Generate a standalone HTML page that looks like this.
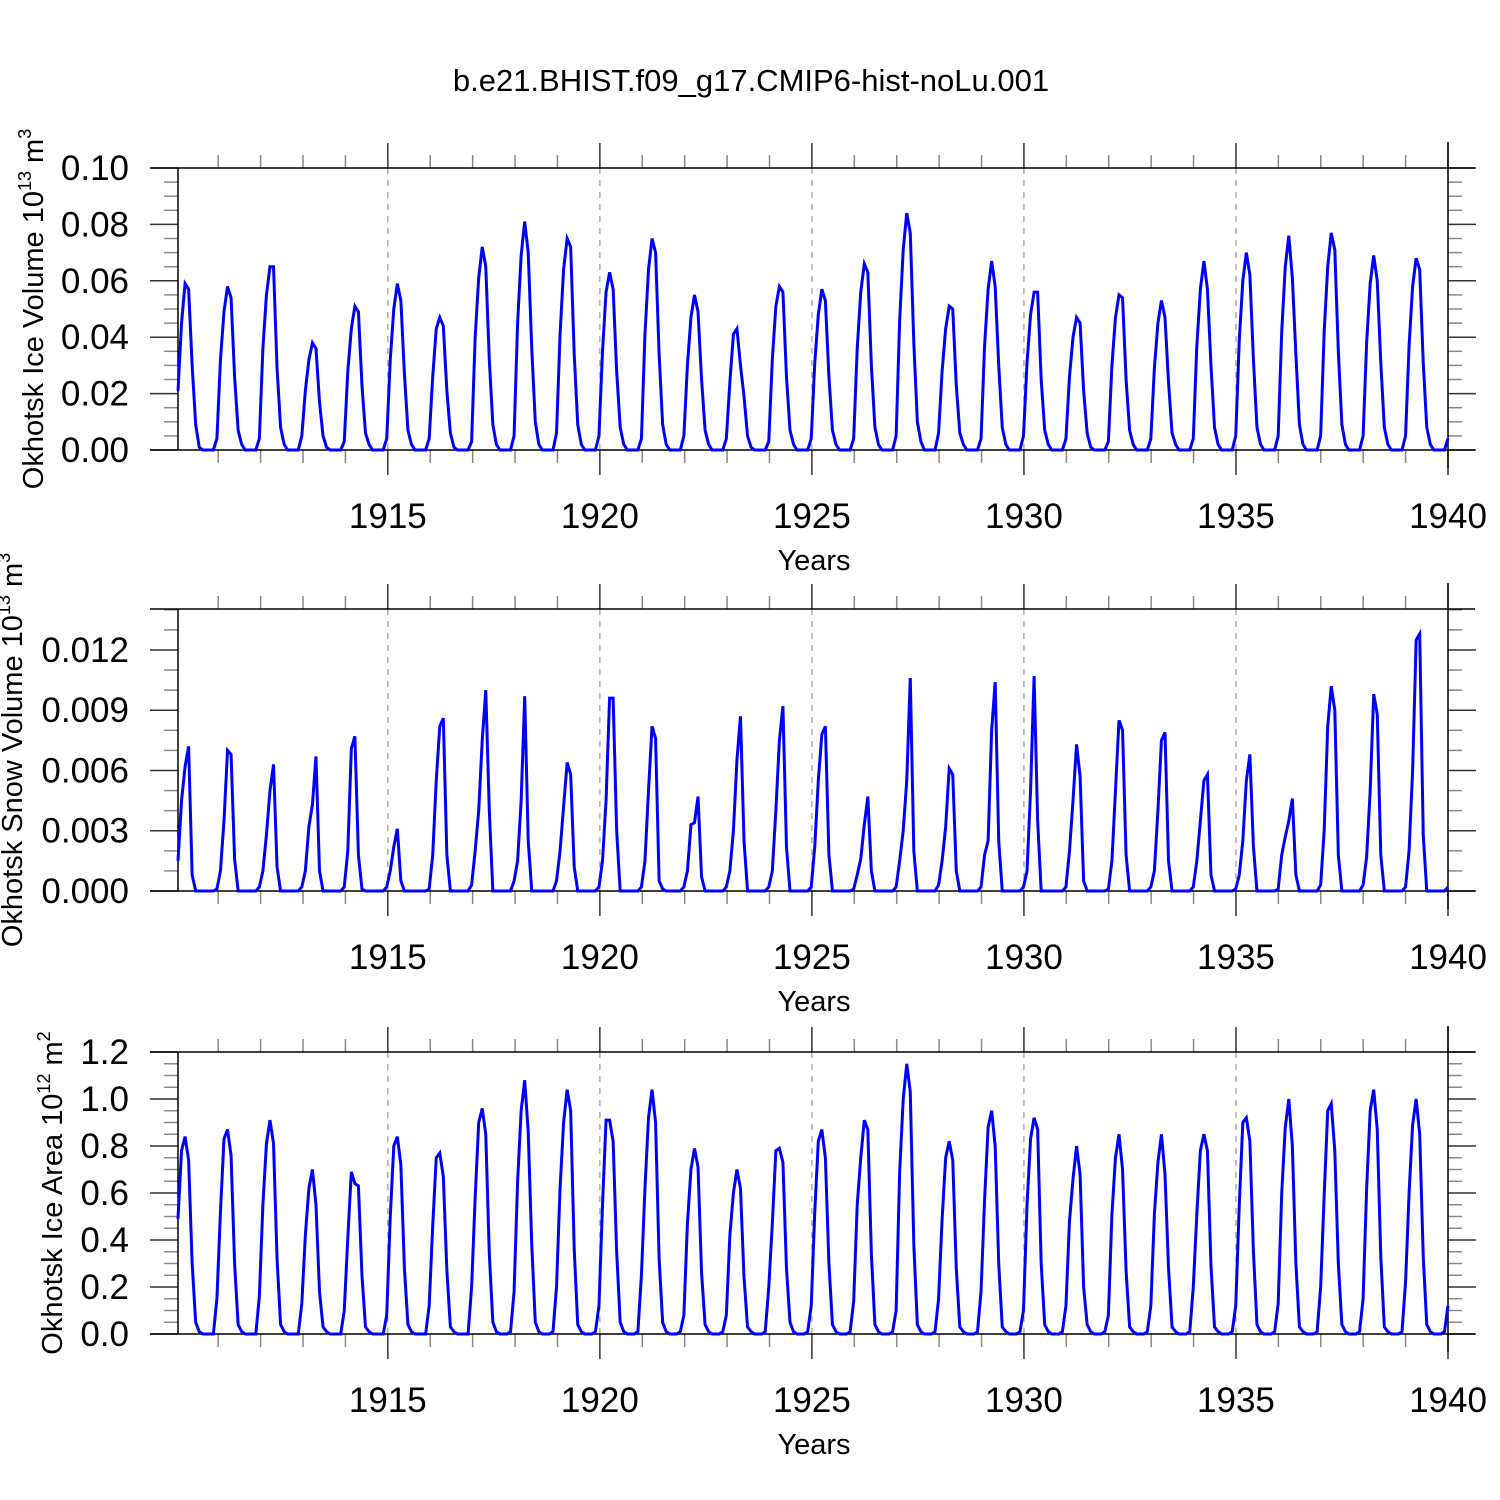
<!DOCTYPE html>
<html><head><meta charset="utf-8">
<style>
html,body{margin:0;padding:0;background:#fff;}
svg{display:block;font-family:"Liberation Sans",sans-serif;}
</style></head>
<body>
<svg id="chart" width="1500" height="1500" viewBox="0 0 1500 1500" xmlns="http://www.w3.org/2000/svg">
<rect width="1500" height="1500" fill="#fff"/>
<text x="751" y="91" font-size="31" text-anchor="middle">b.e21.BHIST.f09_g17.CMIP6-hist-noLu.001</text>
</svg>
<script>
// Monthly data 1910-1939 (Jan..Dec per row)
const years = [1910,1911,1912,1913,1914,1915,1916,1917,1918,1919,1920,1921,1922,1923,1924,1925,1926,1927,1928,1929,1930,1931,1932,1933,1934,1935,1936,1937,1938,1939];
const xTickLabels = [1915,1920,1925,1930,1935,1940];
// Ice volume, units of 0.001 x 10^13 m^3
const iceVolume = [
21,45,59,57,30,9,1,0,0,0,0,4,
32,49,58,54,26,7,2,0,0,0,0,4,
36,55,65,65,29,8,2,0,0,0,0,5,
21,32,38,36,17,5,1,0,0,0,0,3,
28,43,51,49,23,6,2,0,0,0,0,4,
32,50,59,53,27,7,2,0,0,0,0,4,
26,43,47,44,21,6,1,0,0,0,0,3,
40,61,72,65,32,9,2,0,0,0,0,5,
45,69,81,70,36,10,2,0,0,0,0,6,
41,64,75,72,34,9,2,0,0,0,0,5,
35,56,63,57,28,8,2,0,0,0,0,4,
41,64,75,70,34,9,2,0,0,0,0,5,
30,47,55,49,25,7,2,0,0,0,0,4,
24,41,43,30,19,5,1,0,0,0,0,3,
32,51,58,56,26,7,2,0,0,0,0,4,
31,48,57,53,26,7,2,0,0,0,0,4,
36,56,66,63,30,8,2,0,0,0,0,5,
46,71,84,77,38,10,3,0,0,0,0,6,
28,43,51,50,23,6,2,0,0,0,0,4,
37,57,67,58,30,8,2,0,0,0,0,5,
31,48,56,56,25,7,2,0,0,0,0,4,
26,40,47,45,21,6,1,0,0,0,0,3,
30,47,55,54,25,7,2,0,0,0,0,4,
29,45,53,47,24,6,2,0,0,0,0,4,
37,57,67,57,30,8,2,0,0,0,0,5,
39,60,70,62,32,8,2,0,0,0,0,5,
42,65,76,61,34,9,2,0,0,0,0,5,
42,65,77,71,35,9,2,0,0,0,0,5,
38,59,69,60,31,8,2,0,0,0,0,5,
37,58,68,64,31,8,2,0,0,0,0,4];
// Snow volume, units of 0.0001 x 10^13 m^3
const snowVolume = [
15,45,62,72,8,0,0,0,0,0,0,1,
10,35,70,68,16,0,0,0,0,0,0,2,
10,28,50,63,12,0,0,0,0,0,0,2,
10,32,43,67,10,0,0,0,0,0,0,2,
20,71,77,18,1,0,0,0,0,0,0,2,
10,22,31,5,0,0,0,0,0,0,0,1,
18,55,82,86,18,0,0,0,0,0,0,3,
20,40,75,100,40,0,0,0,0,0,0,5,
15,45,97,25,0,0,0,0,0,0,0,5,
20,42,64,58,12,0,0,0,0,0,0,2,
15,45,96,96,30,0,0,0,0,0,0,2,
15,50,82,76,5,1,0,0,0,0,0,2,
10,33,34,47,7,0,0,0,0,0,0,2,
10,30,65,87,25,0,0,0,0,0,0,2,
10,40,75,92,22,0,0,0,0,0,0,2,
22,55,78,82,18,0,0,0,0,0,0,1,
8,16,33,47,10,0,0,0,0,0,0,2,
15,30,55,106,20,0,0,0,0,0,0,3,
15,32,61,58,10,0,0,0,0,0,0,2,
18,25,80,104,25,0,0,0,0,0,0,2,
10,50,107,35,0,0,0,0,0,0,0,2,
20,45,73,57,5,0,0,0,0,0,0,1,
15,50,85,80,18,0,0,0,0,0,0,2,
10,40,75,79,15,0,0,0,0,0,0,2,
15,35,55,58,8,0,0,0,0,0,0,1,
8,25,55,68,22,0,0,0,0,0,0,1,
18,27,35,46,8,0,0,0,0,0,0,3,
30,82,102,90,18,0,0,0,0,0,0,3,
17,50,98,88,18,0,0,0,0,0,0,2,
20,60,125,128,28,0,0,0,0,0,0,2];
// Ice area, units of 0.01 x 10^12 m^2
const iceArea = [
49,78,84,74,30,5,1,0,0,0,0,15,
52,83,87,76,30,4,1,0,0,0,0,16,
55,81,91,81,32,4,1,0,0,0,0,13,
42,62,70,55,18,3,1,0,0,0,0,10,
41,69,64,63,25,3,1,0,0,0,0,8,
50,80,84,72,28,4,1,0,0,0,0,12,
46,75,77,67,27,3,1,0,0,0,0,20,
58,90,96,85,34,5,1,0,0,0,1,18,
65,95,108,86,38,5,1,0,0,0,1,20,
62,90,104,95,36,4,1,0,0,0,1,12,
55,91,91,82,35,5,1,0,0,0,1,25,
62,92,104,90,32,5,1,0,0,0,1,8,
47,70,79,71,26,4,1,0,0,0,1,8,
42,60,70,62,24,3,1,0,0,0,1,20,
47,78,79,73,28,5,1,0,0,0,1,12,
52,82,87,75,30,4,1,0,0,0,1,14,
55,75,91,87,34,4,1,0,0,0,1,10,
69,100,115,103,38,4,1,0,0,0,1,15,
49,75,82,74,28,3,1,0,0,0,1,18,
57,88,95,80,30,3,1,0,0,0,1,10,
55,83,92,87,30,4,1,0,0,0,1,12,
48,66,80,68,20,4,1,0,0,0,1,8,
51,75,85,70,27,3,1,0,0,0,1,12,
51,73,85,68,28,3,1,0,0,0,1,20,
51,78,85,78,29,3,1,0,0,0,1,12,
55,90,92,82,35,4,1,0,0,0,1,13,
60,88,100,80,30,3,1,0,0,0,1,20,
59,95,98,78,30,4,1,0,0,0,1,15,
62,95,104,87,33,3,1,0,0,0,1,22,
60,89,100,85,33,4,1,0,0,0,1,12];
const iceVolTicks = ["0.00","0.02","0.04","0.06","0.08","0.10"];
const snowTicks = ["0.000","0.003","0.006","0.009","0.012"];
const areaTicks = ["0.0","0.2","0.4","0.6","0.8","1.0","1.2"];

const NS = "http://www.w3.org/2000/svg";
const svg = document.getElementById("chart");
const L = 178, R = 1448, OL = 150, OR = 1475;
const X1910 = 175.8;
const nPts = years.length * 12;
function xScale(i){ return L + i * (R - L) / (nPts - 1); }
function xYear(y){ return X1910 + (y - 1910) * (R - X1910) / 30; }
function mk(tag, attrs, parent){
  const e = document.createElementNS(NS, tag);
  for (const k in attrs) e.setAttribute(k, attrs[k]);
  (parent || svg).appendChild(e);
  return e;
}

function panel(name, top, bot, ymax, scaleUnit, vals, ticks, tickStep, minorStep, titleParts, titleX){
  const g = mk("g", {});
  
  
  const yScale = v => bot - (v / ymax) * (bot - top);
  xTickLabels.forEach(yr => {
    if (yr >= 1940) return;
    const x = xYear(yr);
    const d = mk("line", {x1:x, x2:x, y1:top, y2:bot, stroke:"#999", "stroke-width":1.2, "stroke-dasharray":"6,6"}, g);
    
    
  });
  for (let yr = 1911; yr <= 1940; yr++){
    const x = xYear(yr);
    const major = yr % 5 === 0;
    const len = major ? 25 : 13;
    const col = major ? "#333" : "#888";
    mk("line", {x1:x, x2:x, y1:top - len, y2:top, stroke:col, "stroke-width":1.5}, g);
    mk("line", {x1:x, x2:x, y1:bot, y2:bot + len, stroke:col, "stroke-width":1.5}, g);
  }
  const nMinor = Math.floor(ymax / minorStep + 1e-6);
  for (let k = 0; k <= nMinor; k++){
    const v = k * minorStep;
    const y = yScale(v);
    const major = Math.abs((v / tickStep) - Math.round(v / tickStep)) < 1e-6;
    const len = major ? 28 : 14;
    const col = major ? "#333" : "#888";
    mk("line", {x1:L - len, x2:L, y1:y, y2:y, stroke:col, "stroke-width":1.5}, g);
    mk("line", {x1:R, x2:R + len, y1:y, y2:y, stroke:col, "stroke-width":1.5}, g);
  }
  mk("line", {x1:OL, x2:OR, y1:top, y2:top, stroke:"#000", "stroke-width":1.5}, g);
  mk("line", {x1:OL, x2:OR, y1:bot, y2:bot, stroke:"#000", "stroke-width":1.5}, g);
  mk("line", {x1:L, x2:L, y1:top, y2:bot, stroke:"#000", "stroke-width":1.5}, g);
  mk("line", {x1:R, x2:R, y1:top - 26, y2:bot + 18, stroke:"#000", "stroke-width":1.5}, g);
  ticks.forEach((t, k) => {
    const tx = mk("text", {x:129, y:yScale(k * tickStep) + 12, "font-size":35, "text-anchor":"end"}, g);
    tx.textContent = t;
    
    
  });
  xTickLabels.forEach(yr => {
    const tx = mk("text", {x:xYear(yr), y:bot + 78, "font-size":35, "text-anchor":"middle"}, g);
    tx.textContent = yr;
    
    
  });
  const xt = mk("text", {x:814, y:bot + 120, "font-size":29, "text-anchor":"middle"}, g);
  xt.textContent = "Years";
  
  
  const cy = (top + bot) / 2;
  const yt = mk("text", {x:0, y:0, "font-size":29, "text-anchor":"middle", transform:"translate(" + titleX + "," + cy + ") rotate(-90)"}, g);
  
  
  const s1 = mk("tspan", {}, yt); s1.textContent = titleParts[0];
  const s2 = mk("tspan", {dy:-12, "font-size":18}, yt); s2.textContent = titleParts[1];
  const s3 = mk("tspan", {dy:12}, yt); s3.textContent = " m";
  const s4 = mk("tspan", {dy:-12, "font-size":18}, yt); s4.textContent = titleParts[2];
  let d = "";
  vals.forEach((v, i) => { d += (i ? "L" : "M") + xScale(i).toFixed(2) + "," + yScale(v * scaleUnit).toFixed(2); });
  const p = mk("path", {d:d, fill:"none", stroke:"#0000ff", "stroke-width":3, "stroke-linejoin":"miter"}, g);
  
  
}

panel("ice-volume", 168, 450, 0.10, 0.001, iceVolume, iceVolTicks, 0.02, 0.005, ["Okhotsk Ice Volume 10","13","3"], 43);
panel("snow-volume", 609, 891, 0.01404, 0.0001, snowVolume, snowTicks, 0.003, 0.001, ["Okhotsk Snow Volume 10","13","3"], 22);
panel("ice-area", 1052, 1334, 1.2, 0.01, iceArea, areaTicks, 0.2, 0.05, ["Okhotsk Ice Area 10","12","2"], 62);
</script>
</body></html>
